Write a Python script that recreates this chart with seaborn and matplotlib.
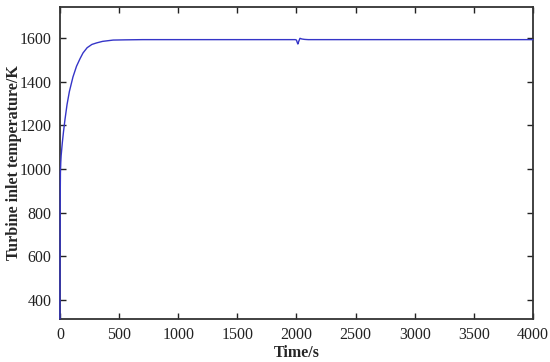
import matplotlib
matplotlib.use("Agg")
import matplotlib.pyplot as plt
import seaborn as sns
import pandas as pd

time_s = [0, 1, 2, 4, 7, 10, 20, 30, 42, 60, 80, 110, 140, 170, 195, 230, 270,
          310, 360, 450, 550, 700, 1000, 1500, 1990, 2000, 2006, 2012, 2020,
          2030, 2045, 2070, 2100, 2500, 3000, 3500, 4000]
temp_K = [313, 600, 850, 980, 1030, 1060, 1120, 1170, 1224, 1295, 1355, 1421,
          1470, 1505, 1531, 1555, 1570, 1577, 1584, 1590, 1591, 1592, 1592,
          1592, 1592, 1590, 1580, 1572, 1585, 1598, 1595, 1593, 1592, 1592,
          1592, 1592, 1592]

df = pd.DataFrame({"Time/s": time_s, "T": temp_K})

sns.set_theme(style="ticks")
plt.rcParams['font.family'] = ['Liberation Serif', 'DejaVu Serif']

fig = plt.figure(figsize=(5.5, 3.62), dpi=100)
ax = fig.add_axes([0.109, 0.119, 0.86, 0.862])
sns.lineplot(data=df, x="Time/s", y="T", ax=ax, color="#3535c8", linewidth=1.0,
             zorder=5)
for ln in ax.lines:
    ln.set_clip_on(False)

ax.set_xlim(0, 4000)
ax.set_ylim(313, 1742)
ax.set_xticks([0, 500, 1000, 1500, 2000, 2500, 3000, 3500, 4000])
ax.set_yticks([400, 600, 800, 1000, 1200, 1400, 1600])
ax.tick_params(direction="in", top=True, right=True, labelsize=11.5,
               length=4, width=1.0, colors="#222222", pad=6)
for s in ax.spines.values():
    s.set_linewidth(1.3)
    s.set_color("#333333")
    s.set_zorder(2)
ax.set_xlabel("Time/s", fontsize=11.5, fontweight="bold", labelpad=1)
ax.set_ylabel("Turbine inlet temperature/K", fontsize=11.5, fontweight="bold")
ax.yaxis.set_label_coords(-0.08, 0.5)

fig.savefig("out.png", dpi=100)
